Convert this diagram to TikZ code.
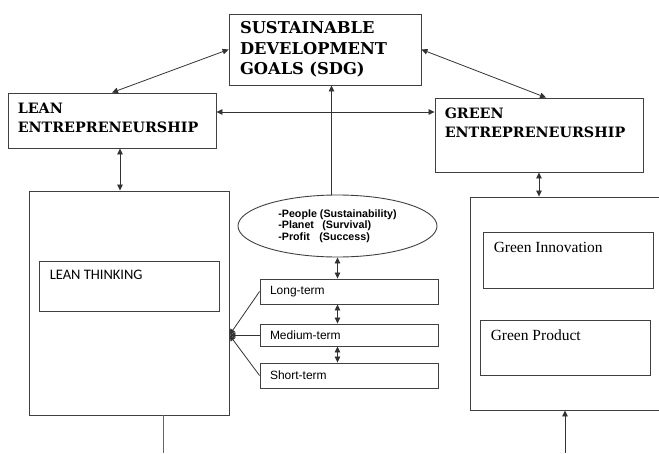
\documentclass[tikz,border=0pt]{standalone}
\usepackage{fontspec}
\setmainfont{Liberation Serif}
\setsansfont{Liberation Sans}
\newfontfamily\headfont{DejaVu Serif}
\newfontfamily\calibri{Carlito}
\usetikzlibrary{arrows.meta,shapes.geometric}

\begin{document}
\begin{tikzpicture}[x=1pt,y=-1pt,
    box/.style={draw=black!75,line width=.9pt,inner sep=0pt},
    hdr/.style={font=\headfont\bfseries\fontsize{14.3}{19.5}\selectfont,align=left,inner sep=0pt},
    twoway/.style={draw=black!80,line width=.8pt,{Triangle[length=6pt,width=5.5pt]}-{Triangle[length=6pt,width=5.5pt]}},
    oneway/.style={draw=black!80,line width=.8pt,-{Triangle[length=6pt,width=5.5pt]}}]
      \useasboundingbox (0,0) rectangle (659,453);
      % goals and the two kinds of entrepreneurship
      \node[box,text width=170,inner xsep=11,minimum height=71,align=left,
        font=\headfont\bfseries\fontsize{16.3}{20.5}\selectfont] (sdg) at (325,49.5) {SUSTAINABLE\\DEVELOPMENT\\GOALS (SDG)};
      \node[box,minimum width=208,minimum height=55,
        label={[hdr,anchor=north west,xshift=10,yshift=-10]north west:{LEAN\\ENTREPRENEURSHIP}}] (lean) at (112,120.5) {};
      \node[box,minimum width=208,minimum height=74,
        label={[hdr,anchor=north west,xshift=10,yshift=-10]north west:{GREEN\\ENTREPRENEURSHIP}}] (green) at (539,135) {};
      % left column
      \node[box,minimum width=200,minimum height=224] (leanbig) at (129,303) {};
      \node[box,minimum width=180,minimum height=50,
        label={[font=\calibri\fontsize{14.5}{17}\selectfont,inner sep=0pt,anchor=north west,xshift=11,yshift=-9.5]north west:LEAN THINKING}] (thinking) at (129,286) {};
      % right column
      \node[box,minimum width=210,minimum height=213] (greenbig) at (575,303.5) {};
      \node[box,minimum width=170,minimum height=56,
        label={[font=\fontsize{15.5}{18}\selectfont,inner sep=0pt,anchor=north west,xshift=11,yshift=-10]north west:Green Innovation}] (innov) at (568,260) {};
      \node[box,minimum width=170,minimum height=55,
        label={[font=\fontsize{15.5}{18}\selectfont,inner sep=0pt,anchor=north west,xshift=11,yshift=-10]north west:Green Product}] (product) at (565,347.5) {};
      % triple bottom line and the time horizons
      \node[draw=black!75,line width=.9pt,ellipse,minimum width=199,minimum height=62,inner sep=0pt,align=left,
        font=\sffamily\bfseries\fontsize{10.7}{11.5}\selectfont] (ppp) at (337.5,226)
        {-People (Sustainability)\\-Planet\hspace{8.3pt}(Survival)\\-Profit\hspace{9.5pt}(Success)};
      \foreach \n/\y/\h/\t in {longt/291.5/25/Long-term, medt/335/22/Medium-term, shortt/375.5/25/Short-term}{
        \node[box,minimum height=\h,text width=158,inner xsep=10,align=left,
          font=\sffamily\fontsize{12}{14}\selectfont] (\n) at (349,\y) {\t};
      }
      % connectors
      \draw[twoway] (sdg.west) -- (lean.north);
      \draw[twoway] (sdg.east) -- ([xshift=7]green.north);
      \draw[twoway] ([yshift=8.5]lean.east) -- ([yshift=8.5]lean.east -| green.west);
      \draw[oneway] ([xshift=-6]ppp.north) -- ([xshift=-6]ppp.north |- sdg.south);
      \draw[twoway] ([xshift=8]lean.south) -- ([xshift=8]lean.south |- leanbig.north);
      \draw[twoway] (green.south) -- (green.south |- greenbig.north);
      \foreach \a/\b in {ppp/longt,longt/medt,medt/shortt}
        \draw[twoway] (ppp.south |- \a.south) -- (ppp.south |- \b.north);
      \coordinate (tip) at (leanbig.east |- medt.west);
      \foreach \n in {longt,medt,shortt}
        \draw[oneway] (\n.west) -- (tip);
      \coordinate (leanout) at (163,453);
      \draw[draw=black!60,line width=.9pt] (leanout |- leanbig.south) -- (leanout);
      \coordinate (greenin) at (565,453);
      \draw[oneway] (greenin) -- (greenin |- greenbig.south);
    \end{tikzpicture}
\end{document}
